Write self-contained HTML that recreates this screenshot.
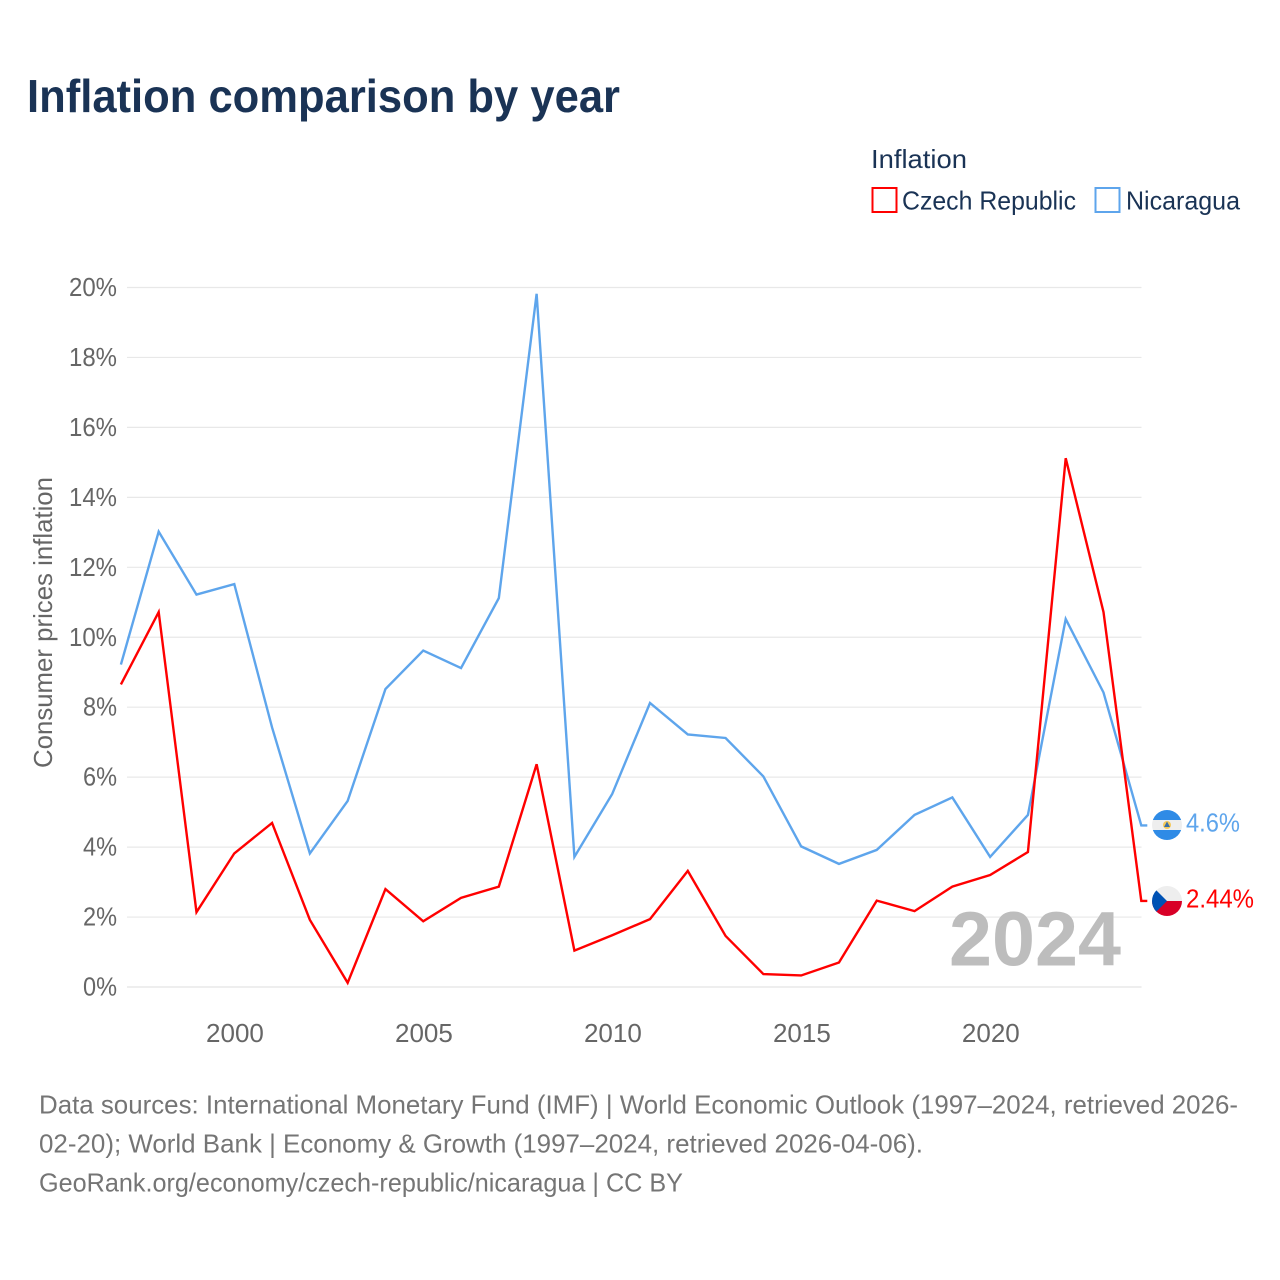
<!DOCTYPE html>
<html lang="en">
<head>
<meta charset="utf-8">
<title>Inflation comparison by year</title>
<style>
html,body{margin:0;padding:0;background:#fff;width:1280px;height:1280px;overflow:hidden}
svg{display:block}
text{font-family:"Liberation Sans",sans-serif}
</style>
</head>
<body>
<svg id="chart" xmlns="http://www.w3.org/2000/svg" width="1280" height="1280" viewBox="0 0 1280 1280">
  <rect width="1280" height="1280" fill="#fff"/>
  <text x="27" y="112" font-size="46" font-weight="700" fill="#1a3355" textLength="593" lengthAdjust="spacingAndGlyphs">Inflation comparison by year</text>

  <g>
    <text x="871" y="168" font-size="26" fill="#1a3355" textLength="96" lengthAdjust="spacingAndGlyphs">Inflation</text>
    <g>
      <rect x="872.5" y="188" width="24" height="24" fill="none" stroke="#ff0000" stroke-width="2"/>
      <text x="902" y="209.5" font-size="26" fill="#1a3355" textLength="174" lengthAdjust="spacingAndGlyphs">Czech Republic</text>
    </g>
    <g>
      <rect x="1095.5" y="188" width="24" height="24" fill="none" stroke="#5ea5ec" stroke-width="2"/>
      <text x="1126" y="209.5" font-size="26" fill="#1a3355" textLength="114" lengthAdjust="spacingAndGlyphs">Nicaragua</text>
    </g>
  </g>

  <text transform="translate(52,768) rotate(-90)" font-size="26" fill="#666" textLength="291" lengthAdjust="spacingAndGlyphs">Consumer prices inflation</text>

  <g id="grid"></g>
  <g id="yticks"></g>
  <g id="xticks"></g>

  <text x="1121" y="965.5" text-anchor="end" font-size="77" font-weight="700" fill="#bdbdbd" textLength="172" lengthAdjust="spacingAndGlyphs">2024</text>

  <g id="series" transform="translate(0.3,-0.7)"></g>

  <g id="flag-ni">
    <clipPath id="clip-ni"><circle cx="1167" cy="825" r="15"/></clipPath>
    <g clip-path="url(#clip-ni)">
      <rect x="1152" y="810" width="30" height="10" fill="#2f8be6"/>
      <rect x="1152" y="820" width="30" height="10" fill="#eeeeee"/>
      <rect x="1152" y="830" width="30" height="10" fill="#2f8be6"/>
      <circle cx="1167" cy="825" r="4" fill="#f5c95a"/>
      <path d="M1167 821.5l3 5.5h-6z" fill="#3a6ea5"/>
    </g>
  </g>
  <g id="flag-cz">
    <clipPath id="clip-cz"><circle cx="1167" cy="901" r="15"/></clipPath>
    <g clip-path="url(#clip-cz)">
      <rect x="1152" y="886" width="30" height="15" fill="#eeeeee"/>
      <rect x="1152" y="901" width="30" height="15" fill="#d80027"/>
      <path d="M1152 886l15 15-15 15z" fill="#0052b4"/>
    </g>
  </g>

  <text id="value-ni" x="1186" y="831.5" font-size="26" fill="#5ea5ec" textLength="54" lengthAdjust="spacingAndGlyphs">4.6%</text>
  <text id="value-cz" x="1186" y="907.5" font-size="26" fill="#ff0000" textLength="68" lengthAdjust="spacingAndGlyphs">2.44%</text>

  <g font-size="26" fill="#757575">
    <text x="39" y="1113.5" textLength="1199" lengthAdjust="spacingAndGlyphs">Data sources: International Monetary Fund (IMF) | World Economic Outlook (1997–2024, retrieved 2026-</text>
    <text x="39" y="1152.5" textLength="884" lengthAdjust="spacingAndGlyphs">02-20); World Bank | Economy &amp; Growth (1997–2024, retrieved 2026-04-06).</text>
    <text x="39" y="1191.5" textLength="644" lengthAdjust="spacingAndGlyphs">GeoRank.org/economy/czech-republic/nicaragua | CC BY</text>
  </g>
</svg>
<script>
const years = [1997,1998,1999,2000,2001,2002,2003,2004,2005,2006,2007,2008,2009,2010,2011,2012,2013,2014,2015,2016,2017,2018,2019,2020,2021,2022,2023,2024];
const czechValues = [8.63,10.7,2.12,3.8,4.67,1.9,0.1,2.78,1.86,2.53,2.85,6.35,1.02,1.46,1.92,3.3,1.44,0.35,0.31,0.68,2.45,2.15,2.85,3.18,3.84,15.1,10.7,2.44];
const nicaraguaValues = [9.2,13.0,11.2,11.5,7.4,3.8,5.3,8.5,9.6,9.1,11.1,19.8,3.7,5.5,8.1,7.2,7.1,6.0,4.0,3.5,3.9,4.9,5.4,3.7,4.9,10.5,8.4,4.6];
const yTickValues = [0,2,4,6,8,10,12,14,16,18,20];
const xTickValues = [2000,2005,2010,2015,2020];

const NS = 'http://www.w3.org/2000/svg';
const xScale = function (year) { return 120.6 + (year - 1997) * (1141 - 120.6) / 27; };
const yScale = function (value) { return 987 - value * (987 - 287.5) / 20; };

const grid = document.getElementById('grid');
const yTicks = document.getElementById('yticks');
const xTicks = document.getElementById('xticks');
const seriesGroup = document.getElementById('series');

yTickValues.forEach(function (v) {
  const line = document.createElementNS(NS, 'line');
  
  
  line.setAttribute('x1', 127);
  line.setAttribute('x2', 1141.5);
  line.setAttribute('y1', yScale(v));
  line.setAttribute('y2', yScale(v));
  line.setAttribute('stroke', '#e8e8e8');
  line.setAttribute('stroke-width', v === 0 ? 1.6 : 1.2);
  grid.appendChild(line);

  const label = document.createElementNS(NS, 'text');
  
  
  label.setAttribute('x', 117);
  label.setAttribute('y', yScale(v) + 8.5);
  label.setAttribute('text-anchor', 'end');
  label.setAttribute('font-size', 26);
  label.setAttribute('fill', '#666');
  label.setAttribute('textLength', v >= 10 ? 48 : 34);
  label.setAttribute('lengthAdjust', 'spacingAndGlyphs');
  label.textContent = v + '%';
  yTicks.appendChild(label);
});

xTickValues.forEach(function (year) {
  const label = document.createElementNS(NS, 'text');
  
  
  label.setAttribute('x', xScale(year) + 1);
  label.setAttribute('y', 1042);
  label.setAttribute('text-anchor', 'middle');
  label.setAttribute('font-size', 26);
  label.setAttribute('fill', '#666');
  label.textContent = year;
  xTicks.appendChild(label);
});

function seriesPoints(values) {
  const pts = values.map(function (v, i) { return xScale(years[i]).toFixed(2) + ',' + yScale(v).toFixed(2); });
  const last = values[values.length - 1];
  pts.push('1147,' + yScale(last).toFixed(2));
  return pts.join(' ');
}

const nicaraguaLine = document.createElementNS(NS, 'polyline');


nicaraguaLine.setAttribute('points', seriesPoints(nicaraguaValues));
nicaraguaLine.setAttribute('fill', 'none');
nicaraguaLine.setAttribute('stroke', '#5ea5ec');
nicaraguaLine.setAttribute('stroke-width', 2.4);
seriesGroup.appendChild(nicaraguaLine);

const czechLine = document.createElementNS(NS, 'polyline');


czechLine.setAttribute('points', seriesPoints(czechValues));
czechLine.setAttribute('fill', 'none');
czechLine.setAttribute('stroke', '#ff0000');
czechLine.setAttribute('stroke-width', 2.4);
seriesGroup.appendChild(czechLine);
</script>
</body>
</html>
